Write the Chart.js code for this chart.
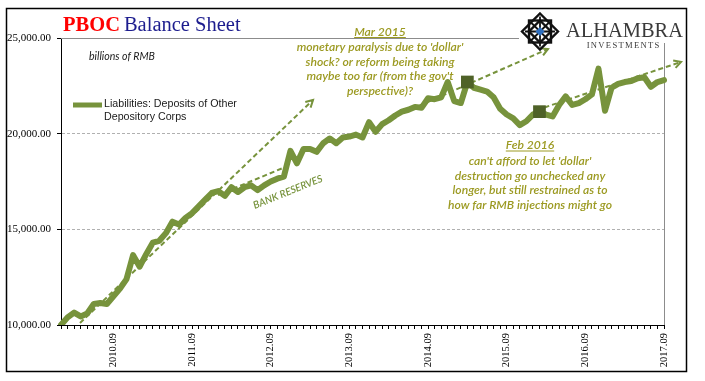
<!DOCTYPE html>
<html><head><meta charset="utf-8">
<script src="https://cdn.jsdelivr.net/npm/chart.js@4/dist/chart.umd.min.js"></script>
<style>html,body{margin:0;padding:0;background:#fff;}canvas{display:block;}</style>
</head><body>
<canvas id="c" width="705" height="381"></canvas>
<script>
// ---------- data ----------
const startYear = 2010, startMonth = 1, endYear = 2017, endMonth = 9;
const categories = [];
for (let y = startYear; y <= endYear; y++) {
  for (let m = 1; m <= 12; m++) {
    if (y === startYear && m < startMonth) continue;
    if (y === endYear && m > endMonth) break;
    categories.push(y + '.' + String(m).padStart(2, '0'));
  }
}
const deposits = [
  10000,10400,10650,10450,10600,11100,11150,11100,11500,11900,
  12400,13650,13050,13700,14300,14400,14800,15400,15250,15600,
  15850,16200,16550,16900,17000,16750,17200,16950,17200,17300,
  17050,17300,17500,17650,17750,19100,18450,19200,19200,19050,
  19500,19750,19500,19800,19850,19950,19800,20600,20100,20500,
  20700,20950,21150,21250,21400,21350,21850,21800,21900,22700,
  21700,21600,22700,22400,22300,22200,21900,21300,21000,20800,
  20450,20650,21000,21150,21000,20900,21500,21950,21500,21600,
  21800,22050,23400,21200,22400,22600,22700,22750,22900,22950,
  22450,22700,22800
];
const tickLabels = ['2010.09','2011.09','2012.09','2013.09','2014.09','2015.09','2016.09','2017.09'];
const yTickValues = [10000, 15000, 20000, 25000];
const markerMonths = ['2015.03', '2016.02'];
const seriesLabel = 'Liabilities: Deposits of Other Depository Corps';

// annotation arrows in data space [categoryIndex, value]
const arrows = [
  { from: [2.9, 10105], to: [38.45, 21760], head: true },
  { from: [23.95, 16795], to: [34.6, 18311], head: false },
  { from: [52.5, 21133], to: [74.3, 24426], head: true },
  { from: [72.6, 21238], to: [94.6, 23747], head: true }
];
const bankLabel = { at: [34.6, 16950], angle: -22, text: 'BANK RESERVES' };

const markers = categories.map((c, i) => markerMonths.includes(c) ? deposits[i] : null);

// ---------- styles ----------
const LINE_GREEN = '#77933C';
const DARK_GREEN = '#4F6228';
const ANN_TEXT = '#9c9a22';

function fitSize(ctx, text, target, style, family) {
  ctx.font = style + ' 100px ' + family;
  return 100 * target / ctx.measureText(text).width;
}

function drawLogo(ctx) {
  ctx.save();
  ctx.fillStyle = '#fff';
  ctx.fillRect(519, 9, 166, 34);
  const cx = 540, cy = 31.5;
  ctx.strokeStyle = '#111';
  ctx.lineWidth = 2.4;
  ctx.beginPath();
  ctx.moveTo(cx, cy - 18); ctx.lineTo(cx + 18, cy); ctx.lineTo(cx, cy + 18); ctx.lineTo(cx - 18, cy); ctx.closePath();
  ctx.stroke();
  ctx.strokeRect(cx - 11, cy - 11, 22, 22);
  ctx.beginPath();
  ctx.moveTo(cx, cy - 11); ctx.lineTo(cx + 11, cy); ctx.lineTo(cx, cy + 11); ctx.lineTo(cx - 11, cy); ctx.closePath();
  ctx.stroke();
  ctx.lineWidth = 1.8;
  ctx.beginPath();
  ctx.moveTo(cx - 9, cy - 9); ctx.lineTo(cx + 9, cy + 9);
  ctx.moveTo(cx + 9, cy - 9); ctx.lineTo(cx - 9, cy + 9);
  ctx.moveTo(cx - 15, cy); ctx.lineTo(cx + 15, cy);
  ctx.moveTo(cx, cy - 15); ctx.lineTo(cx, cy + 15);
  ctx.stroke();
  ctx.fillStyle = '#2e6fc0';
  ctx.beginPath();
  ctx.moveTo(cx, cy - 4.5); ctx.lineTo(cx + 4.5, cy); ctx.lineTo(cx, cy + 4.5); ctx.lineTo(cx - 4.5, cy); ctx.closePath();
  ctx.fill();
  ctx.fillStyle = '#3a3a3a';
  ctx.textBaseline = 'alphabetic';
  ctx.textAlign = 'left';
  const s1 = fitSize(ctx, 'ALHAMBRA', 117, '', '"Liberation Serif"');
  ctx.font = s1.toFixed(2) + 'px "Liberation Serif"';
  ctx.fillText('ALHAMBRA', 566, 37);
  ctx.font = '8.6px "Liberation Serif"';
  const word = 'INVESTMENTS';
  let total = 0; const sp = 1.3;
  for (const ch of word) total += ctx.measureText(ch).width + sp;
  total -= sp;
  let x = 623 - total / 2;
  for (const ch of word) { ctx.fillText(ch, x, 47.5); x += ctx.measureText(ch).width + sp; }
  ctx.restore();
}

const decor = {
  id: 'decor',
  beforeDraw(chart) {
    const c = chart.ctx; c.save(); c.fillStyle = '#fff'; c.fillRect(0, 0, chart.width, chart.height); c.restore();
  },
  beforeDatasetsDraw(chart) {
    const { ctx, chartArea: a, scales: { x, y } } = chart;
    ctx.save();
    ctx.strokeStyle = '#8c8c8c'; ctx.lineWidth = 1;
    ctx.beginPath();
    ctx.moveTo(a.left, Math.round(a.top) + 0.5);
    ctx.lineTo(Math.round(a.right) + 0.5, Math.round(a.top) + 0.5);
    ctx.lineTo(Math.round(a.right) + 0.5, a.bottom);
    ctx.stroke();
    ctx.strokeStyle = LINE_GREEN; ctx.lineWidth = 2;
    for (const ar of arrows) {
      const x1 = x.getPixelForValue(ar.from[0]), y1 = y.getPixelForValue(ar.from[1]);
      const x2 = x.getPixelForValue(ar.to[0]), y2 = y.getPixelForValue(ar.to[1]);
      ctx.setLineDash([5, 3]);
      ctx.beginPath(); ctx.moveTo(x1, y1); ctx.lineTo(x2, y2); ctx.stroke();
      if (ar.head) {
        const th = Math.atan2(y2 - y1, x2 - x1);
        ctx.setLineDash([]);
        ctx.beginPath();
        ctx.moveTo(x2 - 8 * Math.cos(th - 0.5), y2 - 8 * Math.sin(th - 0.5));
        ctx.lineTo(x2, y2);
        ctx.lineTo(x2 - 8 * Math.cos(th + 0.5), y2 - 8 * Math.sin(th + 0.5));
        ctx.stroke();
      }
    }
    ctx.restore();
  },
  afterDraw(chart) {
    const { ctx, scales: { x, y } } = chart;
    ctx.save();
    ctx.textBaseline = 'alphabetic'; ctx.textAlign = 'left';
    ctx.font = 'bold 20.5px "Liberation Serif"';
    ctx.fillStyle = '#ff0000';
    ctx.fillText('PBOC', 63, 31);
    const w1 = ctx.measureText('PBOC').width;
    ctx.font = '20.5px "Liberation Serif"';
    ctx.fillStyle = '#1c1c8e';
    ctx.fillText('Balance Sheet', 63 + w1 + 4, 31);

    ctx.fillStyle = '#1a1a1a';
    const su = fitSize(ctx, 'billions of RMB', 66, 'italic', 'Lato');
    ctx.font = 'italic ' + su.toFixed(2) + 'px Lato';
    ctx.textBaseline = 'middle';
    ctx.fillText('billions of RMB', 89, 57);

    ctx.strokeStyle = LINE_GREEN; ctx.lineWidth = 5;
    ctx.beginPath(); ctx.moveTo(73, 105); ctx.lineTo(102, 105); ctx.stroke();
    ctx.fillStyle = '#1a1a1a';
    const legLines = ['Liabilities: Deposits of Other', 'Depository Corps'];
    const sl = fitSize(ctx, legLines[0], 133, '', '"Liberation Sans"');
    ctx.font = sl.toFixed(2) + 'px "Liberation Sans"';
    ctx.fillText(legLines[0], 104, 104.5);
    ctx.fillText(legLines[1], 104, 117.5);

    ctx.fillStyle = ANN_TEXT; ctx.strokeStyle = ANN_TEXT;
    ctx.textAlign = 'center';
    const marLines = ["monetary paralysis due to 'dollar'", 'shock? or reform being taking', "maybe too far (from the gov't", 'perspective)?'];
    const sm = fitSize(ctx, marLines[0], 167, 'italic 600', 'Lato');
    ctx.font = 'italic 600 ' + sm.toFixed(2) + 'px Lato';
    ctx.fillText('Mar 2015', 380, 32);
    let uw = ctx.measureText('Mar 2015').width;
    ctx.lineWidth = 1; ctx.beginPath(); ctx.moveTo(380 - uw / 2, 37.5); ctx.lineTo(380 + uw / 2, 37.5); ctx.stroke();
    marLines.forEach((t, i) => ctx.fillText(t, 380, 47.3 + i * 14.6));

    const febLines = ["can't afford to let 'dollar'", 'destruction go unchecked any', 'longer, but still restrained as to', 'how far RMB injections might go'];
    const sf = fitSize(ctx, febLines[2], 155, 'italic 600', 'Lato');
    ctx.font = 'italic 600 ' + sf.toFixed(2) + 'px Lato';
    ctx.fillText('Feb 2016', 530, 145.5);
    uw = ctx.measureText('Feb 2016').width;
    ctx.beginPath(); ctx.moveTo(530 - uw / 2, 151); ctx.lineTo(530 + uw / 2, 151); ctx.stroke();
    febLines.forEach((t, i) => ctx.fillText(t, 530, 161 + i * 14.6));

    const bx = x.getPixelForValue(bankLabel.at[0]), by = y.getPixelForValue(bankLabel.at[1]);
    ctx.translate(bx, by); ctx.rotate(bankLabel.angle * Math.PI / 180);
    ctx.fillStyle = LINE_GREEN;
    const sb = fitSize(ctx, bankLabel.text, 74, 'italic 600', 'Lato');
    ctx.font = 'italic 600 ' + sb.toFixed(2) + 'px Lato';
    ctx.fillText(bankLabel.text, 0, 0);
    ctx.setTransform(1, 0, 0, 1, 0, 0);

    drawLogo(ctx);

    ctx.strokeStyle = '#000'; ctx.lineWidth = 1.5;
    ctx.strokeRect(6.5, 8.5, 680, 363);
    ctx.restore();
  }
};

new Chart(document.getElementById('c'), {
  type: 'line',
  data: {
    labels: categories,
    datasets: [
      {
        label: 'markers', data: markers, showLine: false, order: 0,
        pointStyle: 'rect', pointRadius: 9, pointBackgroundColor: DARK_GREEN,
        pointBorderColor: DARK_GREEN, pointBorderWidth: 0
      },
      {
        label: seriesLabel, data: deposits, order: 1,
        borderColor: LINE_GREEN, borderWidth: 6, pointRadius: 0, tension: 0,
        borderJoinStyle: 'round', borderCapStyle: 'round'
      }
    ]
  },
  options: {
    responsive: false, animation: false, devicePixelRatio: 1,
    layout: { padding: { left: 0, top: 38, right: 41, bottom: 0 } },
    plugins: { legend: { display: false }, tooltip: { enabled: false }, title: { display: false } },
    scales: {
      x: {
        offset: false,
        afterFit(s) { s.height = 56; },
        grid: { drawOnChartArea: false, drawTicks: true, tickLength: 4, tickColor: '#000' },
        border: { color: '#000', width: 1 },
        ticks: {
          autoSkip: false, minRotation: 90, maxRotation: 90, padding: 4, color: '#000',
          font: { family: '"Liberation Serif"', size: 10.5 },
          callback(v, i) { return tickLabels.includes(categories[i]) ? categories[i] : ''; }
        }
      },
      y: {
        min: yTickValues[0], max: yTickValues[yTickValues.length - 1],
        afterFit(s) { s.width = 61; },
        afterBuildTicks(s) { s.ticks = yTickValues.map(v => ({ value: v })); },
        grid: {
          color: c => (c.tick && (c.tick.value === 15000 || c.tick.value === 20000)) ? '#b0b0b0' : 'rgba(0,0,0,0)',
          borderDash: [3, 2], tickLength: 4, tickColor: '#000', tickBorderDash: []
        },
        border: { color: '#000', width: 1, dash: [3, 2] },
        ticks: {
          padding: 6, color: '#000',
          font: { family: '"Liberation Serif"', size: 11 },
          callback: v => Number(v).toLocaleString('en-US', { minimumFractionDigits: 2, maximumFractionDigits: 2 })
        }
      }
    }
  },
  plugins: [decor]
});
</script>
</body></html>
